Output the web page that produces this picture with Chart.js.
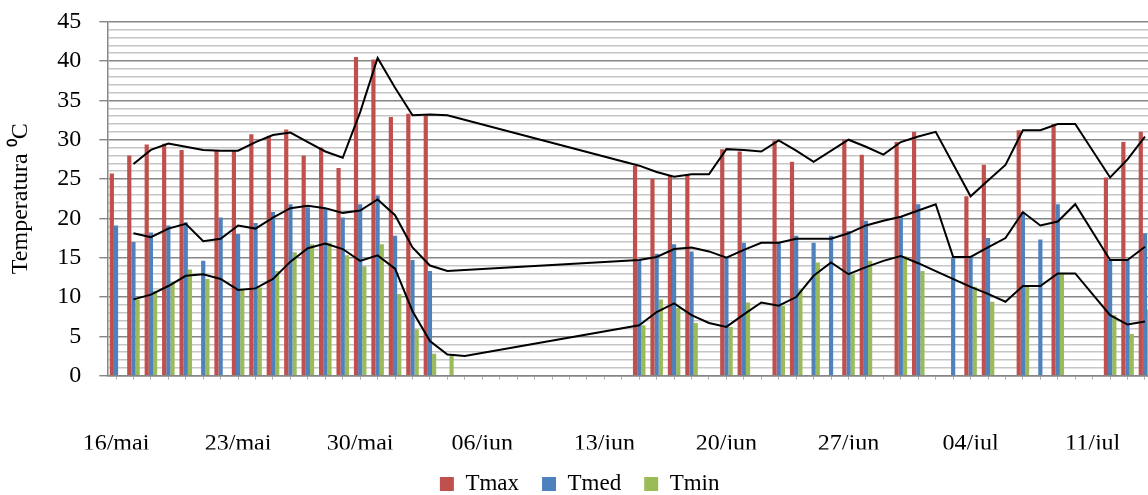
<!DOCTYPE html>
<html>
<head>
<meta charset="utf-8">
<script src="https://cdn.jsdelivr.net/npm/chart.js@4.4.1/dist/chart.umd.min.js"></script>
<style>
    html, body { margin: 0; padding: 0; overflow: hidden; background: #fff; }
    #wrap { width: 1148px; height: 495px; overflow: hidden; }
</style>
</head>
<body>
<div id="wrap"><canvas id="temp_chart" width="1162" height="495"></canvas></div>
<script>
// one entry per day, 16/mai .. 14/jul
const dias = [
    '16/mai', '17/mai', '18/mai', '19/mai', '20/mai', '21/mai', '22/mai', '23/mai', '24/mai', '25/mai',
    '26/mai', '27/mai', '28/mai', '29/mai', '30/mai', '31/mai', '01/jun', '02/jun', '03/jun', '04/jun',
    '05/jun', '06/jun', '07/jun', '08/jun', '09/jun', '10/jun', '11/jun', '12/jun', '13/jun', '14/jun',
    '15/jun', '16/jun', '17/jun', '18/jun', '19/jun', '20/jun', '21/jun', '22/jun', '23/jun', '24/jun',
    '25/jun', '26/jun', '27/jun', '28/jun', '29/jun', '30/jun', '01/jul', '02/jul', '03/jul', '04/jul',
    '05/jul', '06/jul', '07/jul', '08/jul', '09/jul', '10/jul', '11/jul', '12/jul', '13/jul', '14/jul'
];

const tmax = [
    25.7, 28.0, 29.4, 29.5, 28.7, null, 28.6, 28.6, 30.7, 30.5,
    31.3, 28.0, 29.0, 26.4, 40.5, 40.2, 32.9, 33.3, 33.1, null,
    null, null, null, null, null, null, null, null, null, null,
    26.7, 25.0, 25.5, 25.6, null, 28.8, 28.5, null, 29.9, 27.2,
    null, null, 30.0, 28.1, null, 29.7, 31.0, null, null, 22.8,
    26.8, null, 31.2, null, 32.0, null, null, 25.2, 29.7, 31.0
];
const tmed = [
    19.1, 17.0, 18.2, 19.1, 19.5, 14.6, 20.1, 18.0, 19.4, 20.8,
    21.8, 21.4, 21.2, 20.1, 21.8, 22.9, 17.8, 14.7, 13.3, null,
    null, null, null, null, null, null, null, null, null, null,
    14.7, 15.5, 16.7, 15.8, null, 15.0, 16.9, null, 16.9, 17.8,
    16.9, 17.8, 18.4, 19.7, null, 20.2, 21.8, null, 15.1, 15.1,
    17.5, null, 20.8, 17.3, 21.8, null, null, 14.7, 14.7, 18.1
];
const tmin = [
    null, 9.7, 10.8, 11.9, 13.5, 12.3, null, 10.9, 11.2, 13.3,
    15.7, 16.7, 16.9, 15.3, 13.9, 16.7, 10.4, 5.9, 2.8, 2.5,
    null, null, null, null, null, null, null, null, null, null,
    6.4, 9.7, 8.6, 6.7, null, 6.2, 9.3, null, 8.9, 11.0,
    14.4, null, 12.9, 14.6, null, 15.2, 13.3, null, null, 11.3,
    9.4, null, 11.4, null, 13.0, null, null, 7.7, 5.3, 8.4
];

// black trend lines (2-day moving averages as drawn in the picture)
const mm_tmax = [
    null, 26.9, 28.7, 29.5, 29.1, 28.7, 28.6, 28.6, 29.7, 30.6,
    30.9, 29.7, 28.5, 27.7, 33.5, 40.4, 36.6, 33.1, 33.2, 33.1,
    null, null, null, null, null, null, null, null, null, null,
    26.7, 25.9, 25.3, 25.6, 25.6, 28.8, 28.7, 28.5, 29.9, 28.6,
    27.2, null, 30.0, 29.1, 28.1, 29.7, 30.4, 31.0, null, 22.8,
    24.8, 26.8, 31.2, 31.2, 32.0, 32.0, null, 25.2, 27.5, 30.4
];
const mm_tmed = [
    null, 18.1, 17.6, 18.7, 19.3, 17.1, 17.4, 19.1, 18.7, 20.1,
    21.3, 21.6, 21.3, 20.7, 21.0, 22.4, 20.4, 16.3, 14.0, 13.3,
    null, null, null, null, null, null, null, null, null, null,
    14.7, 15.1, 16.1, 16.3, 15.8, 15.0, 16.0, 16.9, 16.9, 17.4,
    17.4, 17.4, 18.1, 19.1, 19.7, 20.2, 21.0, 21.8, 15.1, 15.1,
    16.3, 17.5, 20.8, 19.1, 19.6, 21.8, null, 14.7, 14.7, 16.4
];
const mm_tmin = [
    null, 9.7, 10.3, 11.4, 12.7, 12.9, 12.3, 10.9, 11.1, 12.3,
    14.5, 16.2, 16.8, 16.1, 14.6, 15.3, 13.6, 8.2, 4.4, 2.7,
    2.5, null, null, null, null, null, null, null, null, null,
    6.4, 8.1, 9.2, 7.7, 6.7, 6.2, 7.8, 9.3, 8.9, 10.0,
    12.7, 14.4, 12.9, 13.8, 14.6, 15.2, 14.3, 13.3, null, 11.3,
    10.4, 9.4, 11.4, 11.4, 13.0, 13.0, null, 7.7, 6.5, 6.9
];

const y_max = 45;
const major_grid = '#868686';
const minor_grid = '#c6c6c6';
const serif = "'Liberation Serif', 'Times New Roman', serif";

Chart.defaults.font.family = serif;
Chart.defaults.color = '#000';

function bar_set(label, data, color) {
    return {
        label: label,
        data: data,
        backgroundColor: color,
        borderWidth: 0,
        categoryPercentage: 0.72,
        barPercentage: 1.0,
        order: 2
    };
}

function line_set(data) {
    return {
        type: 'line',
        label: '',
        data: data,
        borderColor: '#000',
        borderWidth: 2,
        pointRadius: 0,
        tension: 0,
        spanGaps: true,
        fill: false,
        order: 1
    };
}

const config = {
    type: 'bar',
    data: {
        labels: dias,
        datasets: [
            bar_set('Tmax', tmax, '#C0504D'),
            bar_set('Tmed', tmed, '#4F81BD'),
            bar_set('Tmin', tmin, '#9BBB59'),
            line_set(mm_tmax),
            line_set(mm_tmed),
            line_set(mm_tmin)
        ]
    },
    options: {
        responsive: false,
        maintainAspectRatio: false,
        animation: false,
        events: [],
        layout: {
            padding: { left: 5.7, right: 8.3, top: 21.7, bottom: -10.5 }
        },
        plugins: {
            tooltip: { enabled: false },
            legend: {
                position: 'bottom',
                labels: {
                    boxWidth: 14,
                    boxHeight: 14,
                    padding: 23,
                    font: { size: 23 },
                    filter: (item) => item.datasetIndex < 3
                }
            }
        },
        scales: {
            x: {
                afterFit: (s) => {
                    s.height = 73.8;
                    s.paddingLeft = 0;
                    s.paddingRight = 0;
                },
                grid: {
                    display: true,
                    drawOnChartArea: false,
                    offset: false,
                    tickLength: 4,
                    tickColor: '#b0b0b0'
                },
                border: { display: true, color: major_grid, width: 1.5 },
                ticks: {
                    autoSkip: false,
                    maxRotation: 0,
                    minRotation: 0,
                    padding: 50,
                    font: { size: 24 },
                    callback: (value, index) => index % 7 === 0 ? dias[index] : ''
                }
            },
            y: {
                min: 0,
                max: y_max,
                afterFit: (s) => {
                    s.width = 101.6;
                    s.paddingTop = 0;
                    s.paddingBottom = 0;
                },
                grid: {
                    color: (ctx) => ctx.tick && ctx.tick.value % 5 === 0 ? major_grid : minor_grid,
                    tickColor: (ctx) => ctx.tick && ctx.tick.value % 5 === 0 ? major_grid : 'rgba(0,0,0,0)',
                    lineWidth: 1.4,
                    tickLength: 8
                },
                border: { display: true, color: major_grid, width: 1.5 },
                ticks: {
                    stepSize: 1,
                    maxTicksLimit: 60,
                    autoSkip: false,
                    padding: 18,
                    font: { size: 24 },
                    callback: (value) => value % 5 === 0 ? value : ''
                },
                title: {
                    display: true,
                    text: 'Temperatura \u2070C',
                    font: { size: 24 },
                    padding: { top: 1, bottom: 0 }
                }
            }
        }
    }
};

const chart = new Chart(document.getElementById('temp_chart'), config);
</script>
</body>
</html>
